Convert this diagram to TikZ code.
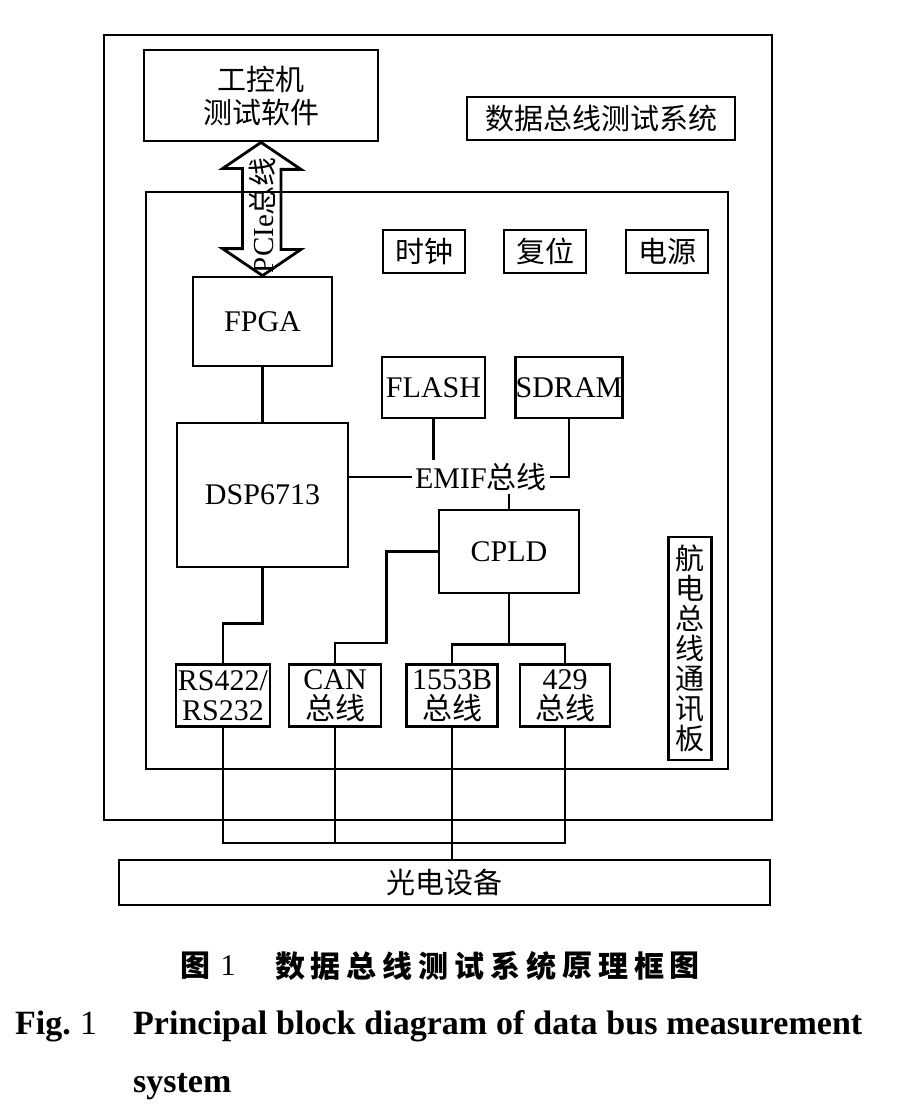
\documentclass[tikz,border=0pt]{standalone}
\usepackage{fontspec}
\setmainfont{Liberation Serif}
\newfontfamily\cjk{Noto Sans CJK SC}
\newcommand\zh[1]{{\cjk #1}}
\begin{document}
\begin{tikzpicture}[x=1pt,y=-1pt,
  box/.style={draw, line width=2.8pt, inner sep=0pt, align=center},
  wire/.style={line width=2.8pt},
  lat/.style={font=\fontsize{30}{30}\selectfont},
  zhf/.style={font=\cjk\fontsize{29}{30}\selectfont},
  capzh/.style={font=\cjk\bfseries\fontsize{30}{30}\selectfont, inner sep=0pt},
  capen/.style={font=\bfseries\fontsize{34}{36}\selectfont, inner sep=0pt, anchor=base west},
]
\useasboundingbox (0,0) rectangle (916,1110);
% frames
\node[box, minimum width=668pt, minimum height=785pt] (sys) at (438,427.5) {};
\node[box, minimum width=582pt, minimum height=577pt] (board) at (437,480.5) {};
% top
\node[box, minimum width=234pt, minimum height=91pt, font=\cjk\fontsize{29}{33}\selectfont] (ipc) at (261,95.5) {工控机\\测试软件};
\node[box, zhf, minimum width=268pt, minimum height=43pt] (title) at (601,118.5) {数据总线测试系统};
\node[box, zhf, minimum width=82pt, minimum height=43pt] (clk) at (424,251.5) {时钟};
\node[box, zhf, minimum width=82pt, minimum height=43pt] (rst) at (545,251.5) {复位};
\node[box, zhf, minimum width=82pt, minimum height=43pt] (pwr) at (667,251.5) {电源};
% main blocks
\node[box, lat, minimum width=139pt, minimum height=89pt] (fpga) at (262.5,321.5) {FPGA};
\node[box, lat, minimum width=103pt, minimum height=61pt] (flash) at (433.5,387.5) {FLASH};
\node[box, lat, minimum width=104pt, minimum height=61pt] (sdram) at (569,387.5) {SDRAM};
\node[box, lat, minimum width=171pt, minimum height=144pt] (dsp) at (262.5,495) {DSP6713};
\node[lat, inner sep=3pt] (emif) at (481,477) {EMIF\zh{总线}};
\node[box, lat, minimum width=140pt, minimum height=83pt] (cpld) at (509,551.5) {CPLD};
% interface boxes
\node[box, lat, minimum width=94pt, minimum height=62pt] (rs) at (223,695.5) {RS422/\\RS232};
\node[box, lat, minimum width=92pt, minimum height=62pt] (can) at (335,695.5) {CAN\\\zh{总线}};
\node[box, lat, minimum width=91pt, minimum height=62pt] (mil) at (452,695.5) {1553B\\\zh{总线}};
\node[box, lat, minimum width=90pt, minimum height=62pt] (arinc) at (565,695.5) {429\\\zh{总线}};
\node[box, zhf, minimum width=43pt, minimum height=223pt] (avb) at (690,648.5) {航\\电\\总\\线\\通\\讯\\板};
\node[box, zhf, minimum width=651pt, minimum height=45pt] (oe) at (444.5,882.5) {光电设备};
% PCIe double arrow
\draw[wire, line join=miter] (ipc.south) -- ++(40,27) -- ++(-20,0) -- ++(0,80) -- ++(20,0)
  -- (fpga.north) -- ++(-40,-27) -- ++(20,0) -- ++(0,-80) -- ++(-20,0) -- cycle;
\node[rotate=90, inner sep=0pt, font=\fontsize{29}{30}\selectfont] (pcie) at (262,215) {PCIe\zh{总线}};
% wiring
\draw[wire] (fpga.south) -- (dsp.north);
\draw[wire] (dsp.east |- emif.west) -- (emif.west);
\draw[wire] (flash.south) -- (flash.south |- emif.north);
\draw[wire] (sdram.south) -- (sdram.south |- emif.east) -- (emif.east);
\draw[wire] (cpld.north) -- (cpld.north |- emif.south);
\draw[wire] (dsp.south) -- ++(0,55) -| (rs.north);
\draw[wire] (cpld.west) -- ++(-51,0) -- ++(0,91.5) -| (can.north);
\draw[wire] (cpld.south) -- ++(0,50) coordinate (split);
\draw[wire] (mil.north) |- (split) -| (arinc.north);
\draw[wire] (rs.south) -- ++(0,115) -| (arinc.south);
\draw[wire] (can.south) -- ++(0,115);
\draw[wire] (mil.south) -- (oe.north -| mil.south);
% caption
\node[capzh] (cap0) at (195,966) {图};
\node[inner sep=0pt, font=\fontsize{30}{30}\selectfont] (cap1) at (228,966) {1};
\foreach \ch [count=\i from 0] in {数,据,总,线,测,试,系,统,原,理,框,图}
  \node[capzh] (cz\i) at ({290+35.9*\i},966) {\ch};
\node[capen] (figl) at (15,1034) {Fig.};
\node[capen, font=\fontsize{34}{36}\selectfont] (fign) at (80,1034) {1};
\node[capen] (capl1) at (133,1034) {\makebox[729pt][s]{Principal block diagram of data bus measurement}};
\node[capen] (capl2) at (133,1092) {system};
\end{tikzpicture}
\end{document}
